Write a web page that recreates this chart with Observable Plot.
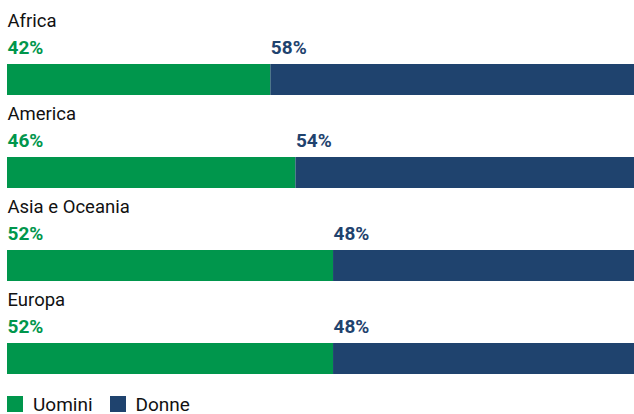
<!DOCTYPE html>
<html>
<head>
<meta charset="utf-8">
<script src="https://cdn.jsdelivr.net/npm/d3@7"></script>
<script src="https://cdn.jsdelivr.net/npm/@observablehq/plot@0.6"></script>
<style>
  html, body { margin: 0; padding: 0; background: #fff; }
  body { width: 634px; height: 414px; overflow: hidden; font-family: Roboto, "DejaVu Sans", sans-serif; }
  #legend { display: flex; align-items: center; height: 20px; margin-top: 14px; margin-left: 7px; font-size: 19px; color: #111; }
  .item { display: flex; align-items: center; margin-right: 17px; }
  .sw { width: 16px; height: 16px; margin-right: 10px; }
</style>
</head>
<body>
<div id="chart"></div>
<div id="legend"></div>
<script>
const regions = ["Africa", "America", "Asia e Oceania", "Europa"];
const uomini = [42, 46, 52, 52];
const donne = [58, 54, 48, 48];
const series = ["Uomini", "Donne"];
const colors = ["#00964c", "#1f436e"];

const table = regions.flatMap((r, i) => [
  {region: r, sex: "Uomini", value: uomini[i], start: 0},
  {region: r, sex: "Donne", value: donne[i], start: uomini[i]}
]);

const chart = Plot.plot({
  width: 634,
  height: 380,
  marginLeft: 7,
  marginRight: 0,
  marginTop: 2,
  marginBottom: 6,
  x: {domain: [0, 100], axis: null},
  y: {domain: regions, axis: null, paddingInner: 0, paddingOuter: 0},
  color: {domain: series, range: colors},
  style: {fontFamily: "Roboto, 'DejaVu Sans', sans-serif", background: "white"},
  marks: [
    Plot.barX(table, {x: "value", y: "region", fill: "sex", insetTop: 62}),
    Plot.text(regions, {y: d => d, text: d => d, frameAnchor: "left", textAnchor: "start",
      lineAnchor: "bottom", dy: -22, fontSize: 18.5, fill: "#111"}),
    Plot.text(table, {x: "start", y: "region", text: d => d.value + "%", textAnchor: "start",
      lineAnchor: "bottom", dy: 4.5, fontSize: 19, fontWeight: "bold",
      fill: d => colors[series.indexOf(d.sex)]})
  ]
});
document.getElementById("chart").appendChild(chart);

const legend = document.getElementById("legend");
series.forEach((s, i) => {
  const item = document.createElement("div");
  item.className = "item";
  const sw = document.createElement("div");
  sw.className = "sw";
  sw.style.background = colors[i];
  const t = document.createElement("span");
  t.textContent = s;
  item.appendChild(sw);
  item.appendChild(t);
  legend.appendChild(item);
});
</script>
</body>
</html>
